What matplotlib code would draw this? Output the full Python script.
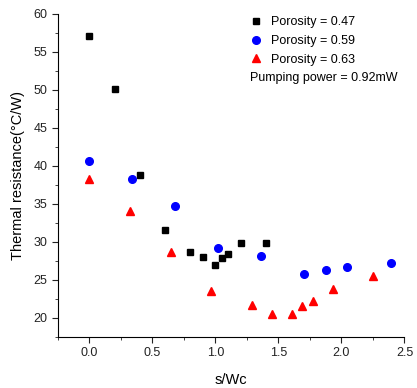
import matplotlib
matplotlib.use("Agg")
import matplotlib.pyplot as plt
from matplotlib.ticker import MultipleLocator

plt.rcParams["font.family"] = ["Liberation Sans", "DejaVu Sans"]

# porosity 0.47
x_047 = [0.0, 0.2, 0.40, 0.6, 0.80, 0.90, 1.0, 1.05, 1.10, 1.20, 1.40]
y_047 = [57.1, 50.1, 38.8, 31.5, 28.7, 28.0, 27.0, 27.9, 28.4, 29.8, 29.9]

# porosity 0.59
x_059 = [0.0, 0.34, 0.68, 1.02, 1.36, 1.70, 1.88, 2.04, 2.39]
y_059 = [40.6, 38.3, 34.75, 29.2, 28.1, 25.8, 26.3, 26.7, 27.2]

# porosity 0.63
x_063 = [0.0, 0.32, 0.645, 0.965, 1.29, 1.45, 1.61, 1.69, 1.77, 1.93, 2.25]
y_063 = [38.3, 34.0, 28.65, 23.5, 21.75, 20.45, 20.5, 21.5, 22.2, 23.8, 25.5]

fig = plt.figure(figsize=(4.17, 3.88), dpi=100)
ax = fig.add_axes([0.139, 0.132, 0.831, 0.832])

ax.plot(x_047, y_047, "s", color="black", markersize=5, linestyle="none", label="Porosity = 0.47")
ax.plot(x_059, y_059, "o", color="blue", markersize=5.5, linestyle="none", label="Porosity = 0.59")
ax.plot(x_063, y_063, "^", color="red", markersize=6, linestyle="none", label="Porosity = 0.63")

ax.set_xlim(-0.25, 2.5)
ax.set_ylim(17.5, 60)
ax.xaxis.set_major_locator(MultipleLocator(0.5))
ax.xaxis.set_minor_locator(MultipleLocator(0.25))
ax.yaxis.set_major_locator(MultipleLocator(5))
ax.yaxis.set_minor_locator(MultipleLocator(2.5))
ax.xaxis.set_major_formatter(plt.FormatStrFormatter("%.1f"))

ax.spines["top"].set_visible(False)
ax.spines["right"].set_visible(False)
ax.tick_params(which="both", direction="out", labelsize=9, colors="#222222")
ax.tick_params(which="major", length=4)
ax.tick_params(which="minor", length=2.5)

ax.set_xlabel("s/Wc", fontsize=10.5, labelpad=10)
ax.set_ylabel("Thermal resistance(\u00b0C/W)", fontsize=10.5, labelpad=6)

leg = ax.legend(loc="upper left", bbox_to_anchor=(0.536, 1.009), frameon=False,
                fontsize=9, handletextpad=0.6, handlelength=1.2,
                labelspacing=0.55, borderaxespad=0.0)
fig.text(0.6, 0.798, "Pumping power = 0.92mW", fontsize=9, va="center")

fig.savefig("out.png", dpi=100)
